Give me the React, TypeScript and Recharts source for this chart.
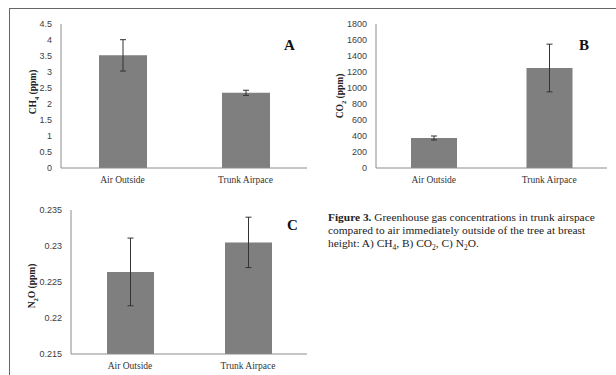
import React from "react";
import { BarChart, Bar, XAxis, YAxis, ErrorBar } from "recharts";

const categories = ["Air Outside", "Trunk Airpace"];
const ch4Mean = [3.52, 2.35];
const ch4Err = [0.49, 0.08];
const co2Mean = [375, 1250];
const co2Err = [25, 298];
const n2oMean = [0.2264, 0.2305];
const n2oErr = [0.0047, 0.0035];

const ch4Ticks = [0, 0.5, 1, 1.5, 2, 2.5, 3, 3.5, 4, 4.5];
const co2Ticks = [0, 200, 400, 600, 800, 1000, 1200, 1400, 1600, 1800];
const n2oTicks = [0.215, 0.22, 0.225, 0.23, 0.235];

const build = (mean: number[], err: number[]) =>
  categories.map((c, i) => ({ cat: c, value: mean[i], err: err[i] }));

const ch4Data = build(ch4Mean, ch4Err);
const co2Data = build(co2Mean, co2Err);
const n2oData = build(n2oMean, n2oErr);

const FRAME = "#8c8c8c";
const SERIF = "'Liberation Serif', 'Times New Roman', serif";
const SANS = "'Liberation Sans', Arial, sans-serif";

const YTitle = ({ x, y, base, sub, rest }: any) => (
  <text
    x={x}
    y={y}
    transform={`rotate(-90 ${x} ${y})`}
    textAnchor="middle"
    dominantBaseline="central"
    fontFamily={SERIF}
    fontWeight="bold"
    fontSize={9.5}
    fill="#222"
  >
    {base}
    <tspan baselineShift="sub" fontSize={6.5}>
      {sub}
    </tspan>
    {rest}
  </text>
);

type PanelProps = {
  data: any[];
  width: number;
  height: number;
  margin: any;
  yWidth: number;
  xHeight: number;
  domain: [number, number];
  ticks: number[];
  barSize: number;
  title: { x: number; y: number; base: string; sub: string; rest: string };
};

const Panel = ({ data, width, height, margin, yWidth, xHeight, domain, ticks, barSize, title }: PanelProps) => (
  <BarChart width={width} height={height} data={data} margin={margin} barSize={barSize}>
    <XAxis
      dataKey="cat"
      height={xHeight}
      tickLine={false}
      tickSize={0}
      tickMargin={8}
      axisLine={{ stroke: FRAME }}
      tick={{ fontFamily: SERIF, fontSize: 9.5, fill: "#333" }}
      interval={0}
    />
    <XAxis xAxisId="top" dataKey="cat" orientation="top" height={0} tick={false} tickLine={false} axisLine={{ stroke: FRAME }} />
    <YAxis
      width={yWidth}
      domain={domain}
      ticks={ticks}
      allowDataOverflow
      tickLine={false}
      tickSize={0}
      tickMargin={9}
      axisLine={{ stroke: FRAME }}
      tick={{ fontFamily: SANS, fontSize: 9, fill: "#404040" }}
      interval={0}
      label={{ content: () => <YTitle {...title} /> }}
    />
    <YAxis yAxisId="right" orientation="right" width={0} tick={false} tickLine={false} axisLine={{ stroke: FRAME }} />
    <Bar dataKey="value" fill="#7f7f7f" isAnimationActive={false}>
      <ErrorBar dataKey="err" width={3} stroke="#333" strokeWidth={1} />
    </Bar>
  </BarChart>
);

const letterStyle: React.CSSProperties = {
  position: "absolute",
  fontFamily: SERIF,
  fontWeight: "bold",
  fontSize: 15,
  lineHeight: "15px",
  color: "#111",
};

const subStyle: React.CSSProperties = { fontSize: 7.5, verticalAlign: "sub", lineHeight: 0 };

export default function App() {
  return (
    <div
      style={{
        position: "absolute",
        left: 0,
        top: 0,
        width: 616,
        height: 375,
        background: "#fff",
        overflow: "hidden",
      }}
    >
      <div style={{ position: "absolute", left: 9, top: 8, width: 1, height: 367, background: "#666" }} />
      <div style={{ position: "absolute", left: 9, top: 8, width: 607, height: 1, background: "#666" }} />

      <div style={{ position: "absolute", left: 0, top: 0 }}>
        <Panel
          data={ch4Data}
          width={320}
          height={190}
          margin={{ top: 24, right: 13, left: 0, bottom: 0 }}
          yWidth={61}
          xHeight={22}
          domain={[0, 4.5]}
          ticks={ch4Ticks}
          barSize={48}
          title={{ x: 33, y: 92, base: "CH", sub: "4", rest: " (ppm)" }}
        />
      </div>

      <div style={{ position: "absolute", left: 310, top: 0 }}>
        <Panel
          data={co2Data}
          width={306}
          height={190}
          margin={{ top: 24, right: 9, left: 0, bottom: 0 }}
          yWidth={66}
          xHeight={22}
          domain={[0, 1800]}
          ticks={co2Ticks}
          barSize={46}
          title={{ x: 30, y: 96, base: "CO", sub: "2", rest: " (ppm)" }}
        />
      </div>

      <div style={{ position: "absolute", left: 0, top: 190 }}>
        <Panel
          data={n2oData}
          width={320}
          height={185}
          margin={{ top: 20, right: 13, left: 0, bottom: 0 }}
          yWidth={71}
          xHeight={21}
          domain={[0.215, 0.235]}
          ticks={n2oTicks}
          barSize={47}
          title={{ x: 32, y: 96, base: "N", sub: "2", rest: "O (ppm)" }}
        />
      </div>

      <div style={{ ...letterStyle, left: 284, top: 38 }}>A</div>
      <div style={{ ...letterStyle, left: 579, top: 38 }}>B</div>
      <div style={{ ...letterStyle, left: 287, top: 218 }}>C</div>

      <div
        style={{
          position: "absolute",
          left: 328,
          top: 211,
          width: 288,
          fontFamily: SERIF,
          fontSize: 11.4,
          lineHeight: "13px",
          color: "#222",
          whiteSpace: "nowrap",
        }}
      >
        <b>Figure 3.</b> Greenhouse gas concentrations in trunk airspace
        <br />
        compared to air immediately outside of the tree at breast
        <br />
        height: A) CH<span style={subStyle}>4</span>, B) CO<span style={subStyle}>2</span>, C) N
        <span style={subStyle}>2</span>O.
      </div>
    </div>
  );
}
